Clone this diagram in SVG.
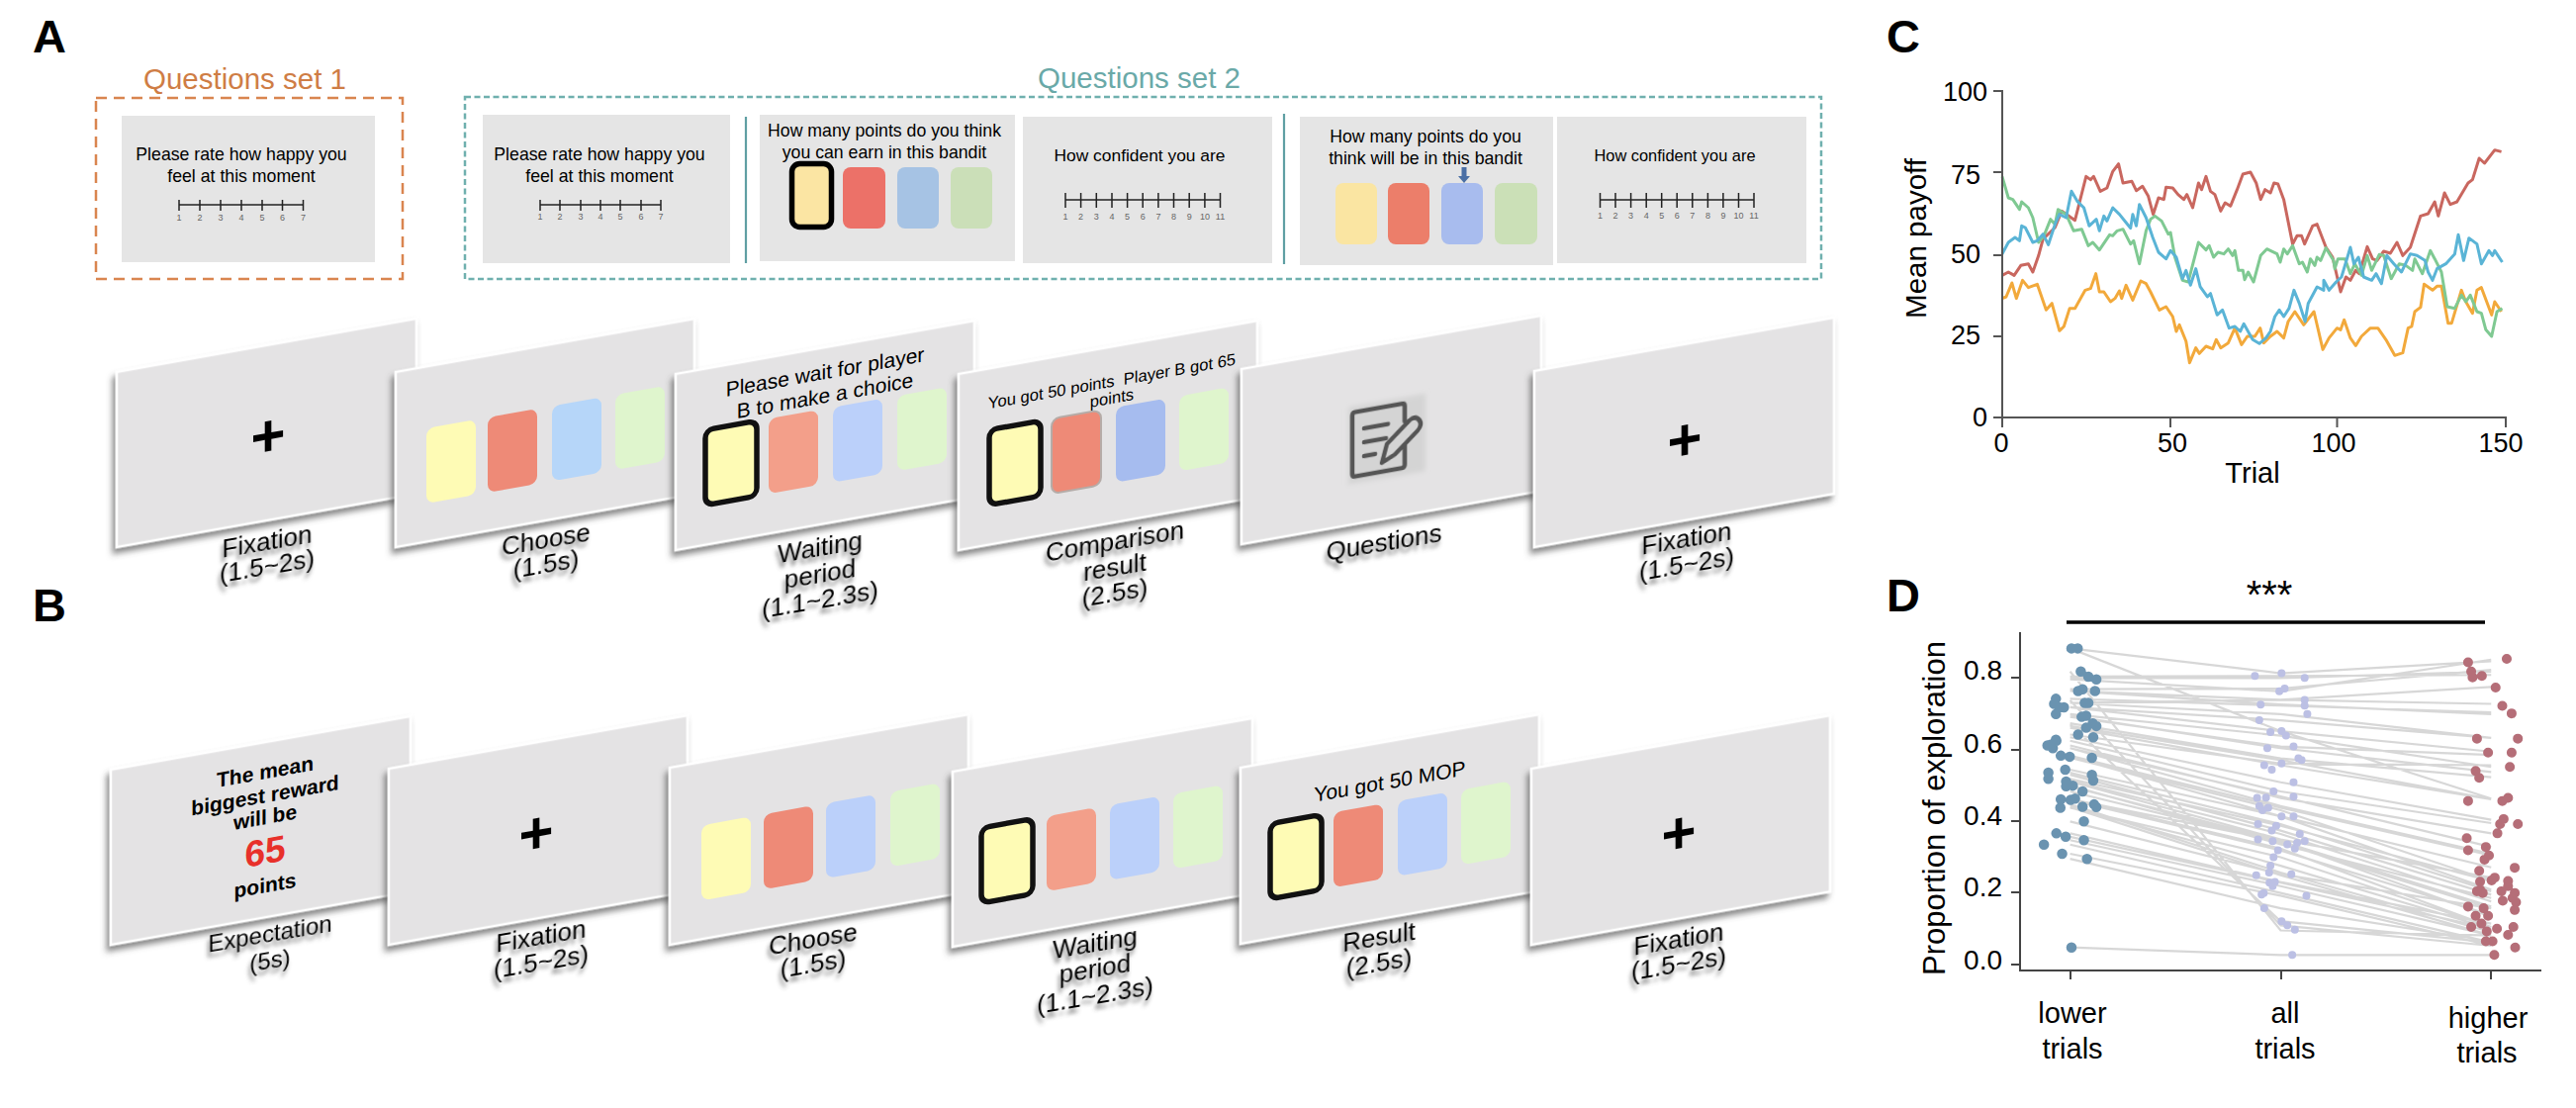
<svg xmlns="http://www.w3.org/2000/svg" width="2604" height="1120" viewBox="0 0 2604 1120">
<style>
text{font-family:"Liberation Sans",Arial,sans-serif;fill:#000}
.m{text-anchor:middle}.e{text-anchor:end}
.letter{font-size:47px;font-weight:700}
.q{font-size:17.7px}.n{font-size:9px;fill:#666;text-anchor:middle}
.flat{fill:#e5e5e5}
.sl{fill:#e4e3e4;stroke:#fff;stroke-width:2.5;filter:url(#ps)}
.lab{font-size:26px;text-anchor:middle;filter:url(#ts)}
.st{font-size:21px;text-anchor:middle}
.sc{fill:none;stroke:#222;stroke-width:1.5}
.plus{font-size:60px;font-weight:700;text-anchor:middle}
.ys{fill:#fefbb5}.yk{fill:#fefbb5;stroke:#111;stroke-width:5.5}
.r1{fill:#ee8a77}.r2{fill:#f39f8a}.b1{fill:#b6d6f9}.b2{fill:#bbd0fa}.b3{fill:#a6bcef}.g1{fill:#dff5cd}
.ax{fill:none;stroke:#555;stroke-width:2}
.big{font-size:27px}
.tr{fill:none;stroke-width:3;stroke-linejoin:round;vector-effect:non-scaling-stroke}
.gl{fill:none;stroke:#7a7a7a;stroke-opacity:.3;stroke-width:2.2;vector-effect:non-scaling-stroke}
.dot{fill:none;stroke-linecap:round;vector-effect:non-scaling-stroke}
</style>
<defs>
<filter id="ps" x="-10%" y="-10%" width="120%" height="125%"><feDropShadow dx="-3" dy="5" stdDeviation="3" flood-color="#444" flood-opacity=".65"/></filter>
<filter id="ts" x="-20%" y="-20%" width="140%" height="150%"><feDropShadow dx="-2" dy="5" stdDeviation="2.2" flood-color="#444" flood-opacity=".7"/></filter>
<filter id="ib" x="-20%" y="-20%" width="140%" height="140%"><feGaussianBlur stdDeviation="2.5"/></filter>
<filter id="ib2" x="-20%" y="-20%" width="140%" height="140%"><feGaussianBlur stdDeviation=".5"/></filter>
</defs>
<rect width="2604" height="1120" fill="#fff"/>

<g id="letters">
<text class="letter" x="33" y="53">A</text>
<text class="letter" x="33" y="628">B</text>
<text class="letter" x="1907" y="53">C</text>
<text class="letter" x="1907" y="618">D</text>
</g>

<g id="questions-set-1">
<text x="145" y="90" font-size="29.5" style="fill:#cf7d45">Questions set 1</text>
<rect x="97" y="99" width="310" height="183" fill="none" stroke="#d9854f" stroke-width="2.5" stroke-dasharray="11 7"/>
<rect class="flat" x="123" y="117" width="256" height="148"/>
<text class="q m" x="244" y="162">Please rate how happy you</text>
<text class="q m" x="244" y="184">feel at this moment</text>
<path class="sc" d="M181 207H306.5M181 202v11M202 202v11M223 202v11M244 202v11M265 202v11M285.5 202v11M306.5 202v11"/>
<text class="n" x="181" y="223">1</text><text class="n" x="202" y="223">2</text><text class="n" x="223" y="223">3</text><text class="n" x="244" y="223">4</text><text class="n" x="265" y="223">5</text><text class="n" x="285.5" y="223">6</text><text class="n" x="306.5" y="223">7</text>
</g>

<g id="questions-set-2">
<text x="1049" y="89" font-size="29.5" style="fill:#6aa9a8">Questions set 2</text>
<rect x="470" y="98" width="1371" height="184" fill="none" stroke="#6fb0ae" stroke-width="2.5" stroke-dasharray="6 3.5"/>
<rect class="flat" x="488" y="116" width="250" height="150"/>
<text class="q m" x="606" y="162">Please rate how happy you</text>
<text class="q m" x="606" y="184">feel at this moment</text>
<path class="sc" d="M546 207H668M546 202v11M566 202v11M587 202v11M607 202v11M627 202v11M648 202v11M668 202v11"/>
<text class="n" x="546" y="222">1</text><text class="n" x="566" y="222">2</text><text class="n" x="587" y="222">3</text><text class="n" x="607" y="222">4</text><text class="n" x="627" y="222">5</text><text class="n" x="648" y="222">6</text><text class="n" x="668" y="222">7</text>
<path d="M754 118V266M1298 115V267" stroke="#5f9fa3" stroke-width="2.2" fill="none"/>
<rect class="flat" x="768" y="116" width="258" height="148"/>
<text class="q m" x="894" y="138">How many points do you think</text>
<text class="q m" x="894" y="160">you can earn in this bandit</text>
<rect x="800.5" y="165.5" width="40" height="64" rx="8" fill="#fbe5a3" stroke="#000" stroke-width="5.5"/>
<rect x="852" y="169" width="43" height="62" rx="8" fill="#ec7168"/>
<rect x="907" y="169" width="42" height="62" rx="8" fill="#a6c3e4"/>
<rect x="961" y="169" width="42" height="62" rx="8" fill="#cbdfb8"/>
<rect class="flat" x="1034" y="118" width="252" height="148"/>
<text class="q m" x="1152" y="163" style="font-size:17.4px">How confident you are</text>
<path class="sc" d="M1077 202H1233.5M1077 195v15M1092.6 195v15M1108.3 195v15M1124 195v15M1139.6 195v15M1155.2 195v15M1170.9 195v15M1186.5 195v15M1202.2 195v15M1217.9 195v15M1233.5 195v15"/>
<text class="n" x="1077" y="222">1</text><text class="n" x="1092.6" y="222">2</text><text class="n" x="1108.3" y="222">3</text><text class="n" x="1124" y="222">4</text><text class="n" x="1139.6" y="222">5</text><text class="n" x="1155.2" y="222">6</text><text class="n" x="1170.9" y="222">7</text><text class="n" x="1186.5" y="222">8</text><text class="n" x="1202.2" y="222">9</text><text class="n" x="1217.9" y="222">10</text><text class="n" x="1233.5" y="222">11</text>
<rect class="flat" x="1314" y="118" width="256" height="150"/>
<text class="q m" x="1441" y="144">How many points do you</text>
<text class="q m" x="1441" y="166">think will be in this bandit</text>
<path d="M1480 169v11" stroke="#4a6fa5" stroke-width="5" fill="none"/><path d="M1474 178h12l-6 7z" fill="#4a6fa5"/>
<rect x="1350" y="185" width="42" height="62" rx="8" fill="#fae5a2"/>
<rect x="1403" y="185" width="42" height="62" rx="8" fill="#ec7e6a"/>
<rect x="1457" y="185" width="42" height="62" rx="8" fill="#a8bcee"/>
<rect x="1511" y="185" width="43" height="62" rx="8" fill="#cbe0b7"/>
<rect class="flat" x="1574" y="118" width="252" height="148"/>
<text class="q m" x="1693" y="163" style="font-size:16.4px">How confident you are</text>
<path class="sc" d="M1617.5 202H1773M1617.5 195v15M1633 195v15M1648.6 195v15M1664.2 195v15M1679.7 195v15M1695.2 195v15M1710.8 195v15M1726.4 195v15M1741.9 195v15M1757.5 195v15M1773 195v15"/>
<text class="n" x="1617.5" y="221">1</text><text class="n" x="1633" y="221">2</text><text class="n" x="1648.6" y="221">3</text><text class="n" x="1664.2" y="221">4</text><text class="n" x="1679.7" y="221">5</text><text class="n" x="1695.2" y="221">6</text><text class="n" x="1710.8" y="221">7</text><text class="n" x="1726.4" y="221">8</text><text class="n" x="1741.9" y="221">9</text><text class="n" x="1757.5" y="221">10</text><text class="n" x="1773" y="221">11</text>
</g>

<g id="a-fixation-1" transform="matrix(1,-.178,0,1,118,376)">
<rect class="sl" width="303" height="177"/>
<text class="plus" x="153" y="112">+</text>
</g>
<g id="a-choose" transform="matrix(1,-.178,0,1,400,376)">
<rect class="sl" width="302" height="177"/>
<rect class="ys" x="31" y="62.5" width="50" height="76" rx="8"/><rect class="r1" x="93" y="62.5" width="50" height="76" rx="8"/><rect class="b1" x="158" y="62.5" width="50" height="76" rx="8"/><rect class="g1" x="222" y="62.5" width="50" height="76" rx="8"/>
</g>
<g id="a-waiting" transform="matrix(1,-.178,0,1,683,378)">
<rect class="sl" width="302" height="178"/>
<text class="st" x="151" y="32">Please wait for player</text>
<text class="st" x="151" y="56">B to make a choice</text>
<rect class="yk" x="30" y="62" width="52" height="76" rx="8"/><rect class="r2" x="94" y="62" width="50" height="76" rx="8"/><rect class="b2" x="159" y="62" width="50" height="76" rx="8"/><rect class="g1" x="224" y="62" width="50" height="76" rx="8"/>
</g>
<g id="a-comparison" transform="matrix(1,-.178,0,1,969,378)">
<rect class="sl" width="302" height="178"/>
<text class="st" x="155" y="40.6" style="font-size:16.6px" xml:space="preserve">You got 50 points  Player B got 65</text>
<text class="st" x="155" y="57.6" style="font-size:16.6px">points</text>
<rect class="yk" x="31" y="62" width="52" height="76" rx="8"/><rect class="r1" x="94" y="62" width="50" height="76" rx="8" stroke="#b5aca8" stroke-width="2"/><rect class="b3" x="159" y="62" width="50" height="76" rx="8"/><rect class="g1" x="223" y="62" width="50" height="76" rx="8"/>
</g>
<g id="a-questions" transform="matrix(1,-.178,0,1,1255,373)">
<rect class="sl" width="303" height="177"/>
<rect x="108" y="58" width="78" height="78" fill="#d4d4d4" filter="url(#ib)"/>
<g filter="url(#ib2)" fill="none" stroke="#555" stroke-width="4.5" stroke-linejoin="round" stroke-linecap="round">
<path d="M165 106V126Q165 129 162 129H115Q112 129 112 126V67Q112 64 115 64H162Q165 64 165 67V82"/>
<path d="M124 82H148M124 96H146M124 110H135"/>
<path d="M142 120L147 102L170 82Q176 78 180 84Q183 89 178 94L155 114Z"/>
</g>
</g>
<g id="a-fixation-2" transform="matrix(1,-.178,0,1,1551,375)">
<rect class="sl" width="303" height="178"/>
<text class="plus" x="152" y="117">+</text>
</g>

<g id="a-labels">
<g transform="matrix(1,-.17,0,1,270,556)"><text class="lab">Fixation</text><text class="lab" y="25">(1.5~2s)</text></g>
<g transform="matrix(1,-.17,0,1,552,554)"><text class="lab">Choose</text><text class="lab" y="25">(1.5s)</text></g>
<g transform="matrix(1,-.17,0,1,829,562)"><text class="lab">Waiting</text><text class="lab" y="27">period</text><text class="lab" y="53">(1.1~2.3s)</text></g>
<g transform="matrix(1,-.17,0,1,1127,556)"><text class="lab">Comparison</text><text class="lab" y="26">result</text><text class="lab" y="52">(2.5s)</text></g>
<g transform="matrix(1,-.17,0,1,1399,557)"><text class="lab">Questions</text></g>
<g transform="matrix(1,-.17,0,1,1705,553)"><text class="lab">Fixation</text><text class="lab" y="26">(1.5~2s)</text></g>
</g>

<g id="b-expectation" transform="matrix(1,-.178,0,1,112,778)">
<rect class="sl" width="303" height="177"/>
<g font-weight="700">
<text class="st" x="156" y="37">The mean</text>
<text class="st" x="156" y="61">biggest reward</text>
<text class="st" x="156" y="83">will be</text>
<text class="st" x="156" y="123" style="font-size:37px;fill:#e8302a">65</text>
<text class="st" x="156" y="152">points</text>
</g>
</g>
<g id="b-fixation-1" transform="matrix(1,-.178,0,1,393,777)">
<rect class="sl" width="302" height="178"/>
<text class="plus" x="149" y="112">+</text>
</g>
<g id="b-choose" transform="matrix(1,-.178,0,1,677,776)">
<rect class="sl" width="302" height="179"/>
<rect class="ys" x="32" y="64" width="50" height="76" rx="8"/><rect class="r1" x="95" y="64" width="50" height="76" rx="8"/><rect class="b2" x="158" y="64" width="50" height="76" rx="8"/><rect class="g1" x="223" y="64" width="50" height="76" rx="8"/>
</g>
<g id="b-waiting" transform="matrix(1,-.178,0,1,963,780)">
<rect class="sl" width="303" height="177"/>
<rect class="yk" x="29" y="62" width="52" height="76" rx="8"/><rect class="r2" x="95" y="62" width="50" height="76" rx="8"/><rect class="b2" x="159" y="62" width="50" height="76" rx="8"/><rect class="g1" x="223" y="62" width="50" height="76" rx="8"/>
</g>
<g id="b-result" transform="matrix(1,-.178,0,1,1254,776)">
<rect class="sl" width="302" height="178"/>
<text class="st" x="151" y="48">You got 50 MOP</text>
<rect class="yk" x="30" y="62" width="52" height="76" rx="8"/><rect class="r1" x="94" y="62" width="50" height="76" rx="8"/><rect class="b2" x="159" y="62" width="50" height="76" rx="8"/><rect class="g1" x="223" y="62" width="50" height="76" rx="8"/>
</g>
<g id="b-fixation-2" transform="matrix(1,-.178,0,1,1548,777)">
<rect class="sl" width="302" height="178"/>
<text class="plus" x="149" y="112">+</text>
</g>

<g id="b-labels">
<g transform="matrix(1,-.17,0,1,273,952)"><text class="lab" style="font-size:24px">Expectation</text><text class="lab" style="font-size:24px" y="27">(5s)</text></g>
<g transform="matrix(1,-.17,0,1,547,955)"><text class="lab">Fixation</text><text class="lab" y="26">(1.5~2s)</text></g>
<g transform="matrix(1,-.17,0,1,822,958)"><text class="lab">Choose</text><text class="lab" y="25">(1.5s)</text></g>
<g transform="matrix(1,-.17,0,1,1107,962)"><text class="lab">Waiting</text><text class="lab" y="26">period</text><text class="lab" y="53">(1.1~2.3s)</text></g>
<g transform="matrix(1,-.17,0,1,1394,956)"><text class="lab">Result</text><text class="lab" y="26">(2.5s)</text></g>
<g transform="matrix(1,-.17,0,1,1697,958)"><text class="lab">Fixation</text><text class="lab" y="25">(1.5~2s)</text></g>
</g>

<g id="panel-c">
<g id="c-lines" transform="translate(1900,0) scale(.44898,.33333)">
<path class="tr" stroke="#c9675f" d="M276 835 290 825 303 835 318 805 335 800 345 825 358 775 368 725 395 690 410 640 440 668 465 535 475 545 482 535 497 580 512 570 525 520 538 497 548 555 568 550 578 578 592 565 605 595 616 650 628 600 640 605 645 568 660 570 672 590 685 605 692 590 705 630 718 555 725 575 735 535 745 580 755 590 768 640 778 615 790 625 805 575 818 528 835 522 848 555 858 605 868 575 880 585 888 555 897 558 910 605 930 740 940 715 950 715 957 740 975 685 985 680 1005 750 1020 780 1038 885 1050 840 1060 850 1072 820 1080 830 1098 748 1110 785 1120 790 1135 762 1150 768 1165 735 1178 775 1195 750 1218 655 1235 648 1250 612 1258 655 1272 585 1285 620 1300 612 1325 555 1335 545 1350 480 1362 495 1385 455 1400 460"/>
<path class="tr" stroke="#f2a93b" d="M276 905 285 900 298 858 308 905 322 850 335 872 355 862 375 940 388 920 405 1003 415 990 428 935 440 935 463 880 475 875 487 830 495 885 505 885 520 915 530 905 540 882 545 905 555 865 570 910 588 852 600 860 610 885 630 940 645 930 660 960 668 1005 675 985 690 1035 698 1100 712 1055 720 1072 735 1050 750 1058 758 1030 768 1055 785 1040 800 995 815 1045 828 1020 845 1020 857 995 865 1040 880 1020 895 1005 910 1025 920 975 935 945 955 985 978 945 998 1060 1012 1025 1030 995 1038 1000 1046 970 1060 1025 1072 1048 1085 1020 1105 995 1122 995 1140 1030 1160 1078 1178 1070 1190 995 1198 990 1205 945 1218 932 1226 862 1245 880 1255 868 1265 868 1280 980 1288 980 1310 880 1320 915 1335 950 1345 880 1355 872 1378 955 1385 915 1400 945"/>
<path class="tr" stroke="#7fc992" d="M276 535 290 600 300 605 315 635 320 612 335 630 345 660 358 735 370 715 385 665 395 680 402 635 420 650 437 700 455 695 470 745 480 735 495 758 518 712 525 715 535 700 548 695 565 740 572 730 585 800 600 700 610 665 620 655 635 670 650 710 655 705 665 780 682 850 695 855 718 735 735 758 742 745 752 780 762 765 775 770 785 755 795 775 800 760 808 820 818 820 822 848 830 825 842 855 858 775 872 755 895 770 902 795 910 755 918 770 930 745 945 800 952 795 963 825 970 785 980 805 985 780 993 790 1005 752 1022 790 1025 815 1032 785 1048 785 1060 830 1070 800 1085 835 1098 775 1108 820 1125 772 1135 775 1152 845 1170 800 1185 805 1200 820 1205 785 1222 830 1240 760 1250 785 1265 825 1278 930 1295 935 1310 895 1320 915 1330 895 1345 945 1355 950 1365 1000 1378 1020 1390 945 1402 935"/>
<path class="tr" stroke="#5ab4d6" d="M276 770 290 735 305 720 315 730 320 685 328 690 345 735 355 730 368 710 380 742 395 680 405 650 420 660 432 580 445 610 460 630 472 685 488 665 495 700 505 655 512 670 525 630 540 650 555 675 565 692 570 650 578 685 585 620 600 660 615 720 628 765 645 785 655 760 668 780 682 845 690 820 700 865 712 815 722 870 738 900 745 890 760 955 772 940 787 995 800 990 812 1005 820 982 840 1030 855 1042 870 1025 880 1005 890 960 900 940 910 960 922 935 933 880 945 920 958 975 965 920 985 870 1000 880 1000 850 1012 880 1028 855 1040 840 1060 750 1068 800 1078 780 1090 840 1108 850 1118 830 1130 860 1142 775 1158 800 1175 825 1195 770 1210 775 1228 790 1235 825 1245 850 1255 815 1275 800 1295 770 1303 712 1315 790 1327 722 1345 740 1355 800 1372 760 1380 775 1385 760 1402 795"/>
</g>
<path class="ax" d="M2015 92H2024V422H2533V432M2015 174H2024M2015 258H2024M2015 340H2024M2015 422H2024M2024 422V432M2194 422V432M2362.5 422V432"/>
<g class="big">
<text class="e" x="2009" y="102">100</text><text class="e" x="2002" y="186">75</text><text class="e" x="2002" y="266">50</text><text class="e" x="2002" y="348">25</text><text class="e" x="2009" y="431">0</text>
<text class="m" x="2023" y="457">0</text><text class="m" x="2196" y="457">50</text><text class="m" x="2359" y="457">100</text><text class="m" x="2528" y="457">150</text>
</g>
<text class="m" x="2277" y="488" font-size="29">Trial</text>
<text class="m" transform="translate(1947,241) rotate(-90)" font-size="29.5">Mean payoff</text>
</g>

<g id="panel-d">
<g id="d-lines" transform="translate(1900,560) scale(.44898,.34435)">
<path class="gl" d="M429 277L903 350L1377 315M429 277L903 520L1377 718M429 345L903 1105L1377 1120M429 360L903 358L1377 355M429 364L903 364L1377 345M429 368L903 403L1377 310M429 397L903 395L1377 340M429 402L903 428L1377 440M429 402L903 442L1377 470M429 425L903 445L1377 465M429 437L903 428L1377 390M429 437L903 470L1377 540M429 450L903 488L1377 540M429 450L903 520L1377 580M429 470L903 533L1377 625M429 478L903 565L1377 590M429 475L903 570L1377 640M429 497L903 600L1377 655M429 505L903 605L1377 720M429 510L903 620L1377 720M429 530L903 615L1377 620M429 538L903 670L1377 780M429 548L903 697L1377 790M429 562L903 716L1377 820M429 570L903 712L1377 860M429 570L903 740L1377 880M429 592L903 745L1377 885M429 595L903 770L1377 920M429 598L903 752L1377 960M429 633L903 770L1377 985M429 642L903 793L1377 990M429 660L903 798L1377 960M429 648L903 812L1377 1000M429 665L903 822L1377 1020M429 668L903 838L1377 950M429 682L903 843L1377 1035M429 680L903 852L1377 1010M429 697L903 848L1377 1040M429 720L903 843L1377 1065M429 718L903 865L1377 1095M429 722L903 870L1377 1060M429 745L903 890L1377 1095M429 742L903 915L1377 1100M429 735L903 935L1377 1110M429 743L903 943L1377 1120M429 785L903 940L1377 1040M429 820L903 963L1377 1085M429 830L903 965L1377 1100M429 840L903 975L1377 1120M429 853L903 995L1377 1140M429 880L903 1003L1377 1150M429 895L903 1040L1377 1137M429 500L903 1078L1377 1140M429 430L903 1090L1377 1150M429 1155L903 1177L1377 1177"/>
<path class="dot" stroke="#6a93b0" stroke-width="10.5" d="M432 277h.1M446 277h.1M453 345h.1M470 360h.1M488 368h.1M457 397h.1M447 402h.1M485 402h.1M397 425h.1M393 440h.1M462 437h.1M470 437h.1M405 450h.1M415 450h.1M397 470h.1M455 478h.1M465 475h.1M480 497h.1M488 505h.1M465 510h.1M447 530h.1M481 538h.1M398 548h.1M378 562h.1M390 570h.1M408 592h.1M428 595h.1M478 598h.1M418 633h.1M380 642h.1M380 660h.1M478 648h.1M481 665h.1M420 668h.1M420 682h.1M435 680h.1M457 697h.1M408 720h.1M440 718h.1M430 722h.1M407 745h.1M457 742h.1M483 735h.1M488 743h.1M460 785h.1M398 820h.1M419 830h.1M460 840h.1M370 853h.1M411 880h.1M467 895h.1M432 1155h.1M385 560h.1M397 545h.1"/>
<path class="dot" stroke="#bcc0e4" stroke-width="8" d="M845 358h.1M905 350h.1M957 364h.1M912 395h.1M900 403h.1M858 442h.1M957 428h.1M957 445h.1M963 470h.1M855 488h.1M880 523h.1M905 520h.1M915 533h.1M873 570h.1M932 565h.1M943 600h.1M950 605h.1M866 620h.1M905 615h.1M883 633h.1M932 670h.1M887 697h.1M850 716h.1M870 715h.1M932 712h.1M855 740h.1M875 745h.1M862 752h.1M905 770h.1M932 770h.1M852 793h.1M893 798h.1M883 812h.1M946 822h.1M852 838h.1M885 843h.1M918 852h.1M940 848h.1M957 843h.1M935 865h.1M897 870h.1M887 890h.1M880 915h.1M877 935h.1M848 943h.1M927 940h.1M890 963h.1M878 965h.1M885 975h.1M865 995h.1M860 1000h.1M961 1003h.1M866 1040h.1M905 1078h.1M918 1090h.1M935 1103h.1M929 1177h.1"/>
<path class="dot" stroke="#b56e78" stroke-width="10" d="M1325 318h.1M1412 308h.1M1332 345h.1M1335 362h.1M1356 358h.1M1387 392h.1M1402 446h.1M1423 468h.1M1345 542h.1M1437 542h.1M1370 583h.1M1423 583h.1M1419 625h.1M1342 637h.1M1350 657h.1M1325 725h.1M1415 716h.1M1402 725h.1M1405 778h.1M1397 793h.1M1437 793h.1M1391 820h.1M1322 834h.1M1325 870h.1M1365 860h.1M1372 885h.1M1362 897h.1M1430 921h.1M1350 930h.1M1385 950h.1M1378 958h.1M1415 960h.1M1352 962h.1M1352 985h.1M1345 990h.1M1358 995h.1M1400 990h.1M1415 975h.1M1430 995h.1M1425 1010h.1M1403 1018h.1M1433 1022h.1M1430 1045h.1M1325 1035h.1M1360 1040h.1M1342 1062h.1M1370 1062h.1M1355 1085h.1M1332 1095h.1M1390 1100h.1M1427 1095h.1M1367 1108h.1M1415 1118h.1M1365 1137h.1M1380 1137h.1M1431 1155h.1M1384 1177h.1"/>
</g>
<path class="ax" style="stroke:#444" d="M2042 639V981H2569M2033 685H2042M2033 758H2042M2033 830H2042M2033 902H2042M2033 975H2042M2093 981V990M2306 981V990M2518 981V990"/>
<g font-size="28">
<text class="e" x="2024" y="687">0.8</text><text class="e" x="2024" y="761">0.6</text><text class="e" x="2024" y="834">0.4</text><text class="e" x="2024" y="906">0.2</text><text class="e" x="2024" y="980">0.0</text>
</g>
<text class="m" transform="translate(1966,817) rotate(-90)" font-size="31">Proportion of exploration</text>
<g font-size="29">
<text class="m" x="2095" y="1034">lower</text><text class="m" x="2095" y="1070">trials</text>
<text class="m" x="2310" y="1034">all</text><text class="m" x="2310" y="1070">trials</text>
<text class="m" x="2515" y="1039">higher</text><text class="m" x="2514" y="1074">trials</text>
</g>
<path d="M2089 629H2512" stroke="#000" stroke-width="3.5" fill="none"/>
<text class="m" x="2294" y="615" font-size="40">***</text>
</g>
</svg>
